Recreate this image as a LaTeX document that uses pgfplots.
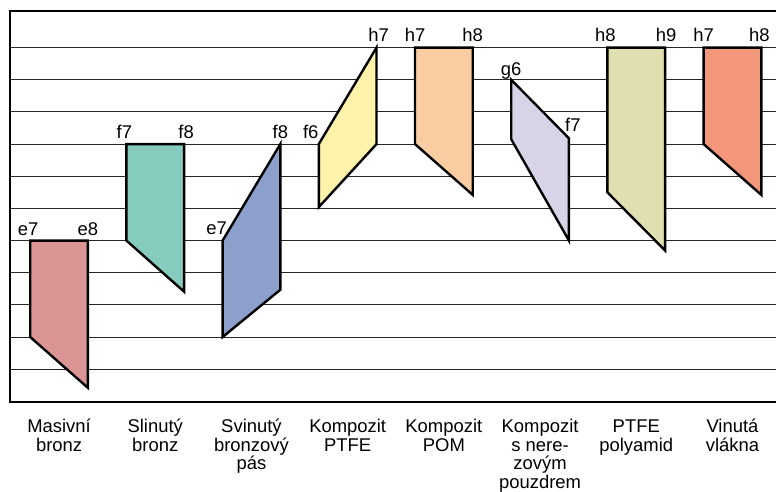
\documentclass[border=0pt]{standalone}
\usepackage{pgfplots}
\pgfplotsset{compat=1.18}
\usepackage{fontspec}
\setmainfont{Liberation Sans}
\definecolor{cMas}{RGB}{218,149,148}
\definecolor{cSli}{RGB}{133,204,190}
\definecolor{cSvi}{RGB}{141,160,203}
\definecolor{cPtf}{RGB}{255,242,170}
\definecolor{cPom}{RGB}{249,204,162}
\definecolor{cNer}{RGB}{217,211,232}
\definecolor{cPol}{RGB}{224,223,178}
\definecolor{cVla}{RGB}{242,151,121}
\newcommand{\T}{\rule{0pt}{16bp}}
\begin{document}
\begin{tikzpicture}
\useasboundingbox (-10bp,-90bp) rectangle (766bp,402bp);
\begin{axis}[
  at={(0,0)}, anchor=south west,
  x=96.2bp, y=32.16bp,
  xmin=-0.51, xmax=7.75, ymin=-1.02, ymax=11.14,
  axis line style={line width=1.8pt, black},
  ytick={0,...,10}, yticklabels={},
  ymajorgrids, grid style={line width=1pt, black!85},
  major tick length=0pt,
  xtick={0,...,7},
  xticklabels={{\T Masivní\\bronz},{\T Slinutý\\bronz},{\T Svinutý\\bronzový\\pás},{\T Kompozit\\PTFE},{\T Kompozit\\POM},{\T Kompozit\\s nere-\\zovým\\pouzdrem},{\T PTFE\\polyamid},{\T Vinutá\\vlákna}},
  xticklabel style={align=center, anchor=north, inner sep=0pt, yshift=-14.5bp,
    font=\fontsize{18.5}{18.6}\selectfont},
  clip=false,
  every axis plot/.append style={draw=black, line width=2.4pt, line join=miter},
]
\addplot[fill=cMas] coordinates {(-0.3,4) (0.3,4) (0.3,-0.58) (-0.3,1)} -- cycle;
\addplot[fill=cSli] coordinates {(0.7,7) (1.3,7) (1.3,2.41) (0.7,4)} -- cycle;
\addplot[fill=cSvi] coordinates {(1.7,4) (2.3,7) (2.3,2.47) (1.7,1)} -- cycle;
\addplot[fill=cPtf] coordinates {(2.7,7) (3.3,10) (3.3,7) (2.7,5.04)} -- cycle;
\addplot[fill=cPom] coordinates {(3.7,10) (4.3,10) (4.3,5.42) (3.7,7)} -- cycle;
\addplot[fill=cNer] coordinates {(4.7,9) (5.3,7.18) (5.3,4) (4.7,7.15)} -- cycle;
\addplot[fill=cPol] coordinates {(5.7,10) (6.3,10) (6.3,3.69) (5.7,5.5)} -- cycle;
\addplot[fill=cVla] coordinates {(6.7,10) (7.3,10) (7.3,5.42) (6.7,7)} -- cycle;
\addplot[draw=none, mark=none, nodes near coords, point meta=explicit symbolic,
  visualization depends on={\thisrow{dx} \as \dx},
  visualization depends on={\thisrow{dy} \as \dy},
  every node near coord/.append style={anchor=base, inner sep=0pt,
    xshift=\dx bp, yshift=\dy bp, font=\fontsize{18.5}{20}\selectfont, text=black}]
table[x=x, y=y, meta=lab] {
x y lab dx dy
-0.3 4 e7 -2 5
0.3 4 e8 0 5
0.7 7 f7 -2 6
1.3 7 f8 2 6
1.7 4 e7 -6 6
2.3 7 f8 0 6
2.7 7 f6 -8 6
3.3 10 h7 2 6
3.7 10 h7 0 6
4.3 10 h8 0 6
4.7 9 g6 0 4.5
5.3 7.18 f7 4 6.5
5.7 10 h8 -2 6
6.3 10 h9 1 6
6.7 10 h7 0 6
7.3 10 h8 -2 6
};
\end{axis}
\end{tikzpicture}
\end{document}
